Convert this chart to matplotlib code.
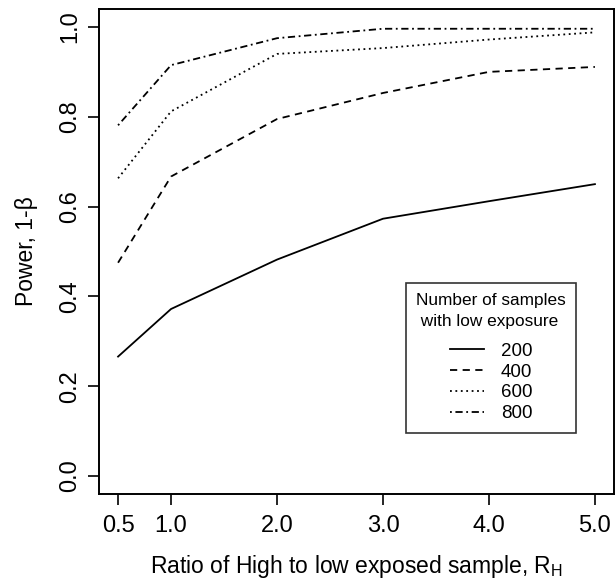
import matplotlib
matplotlib.use("Agg")
import matplotlib.pyplot as plt

plt.rcParams["font.family"] = ["Liberation Sans", "DejaVu Sans"]
plt.rcParams["mathtext.fontset"] = "custom"
plt.rcParams["mathtext.rm"] = "Liberation Sans"

# ratio of high to low exposed sample
ratio = [0.5, 1.0, 2.0, 3.0, 4.0, 5.0]

# power for each number of low-exposure samples
power_200 = [0.266, 0.372, 0.482, 0.573, 0.612, 0.650]
power_400 = [0.475, 0.667, 0.795, 0.853, 0.900, 0.911]
power_600 = [0.663, 0.812, 0.940, 0.953, 0.972, 0.988]
power_800 = [0.781, 0.915, 0.975, 0.996, 0.996, 0.996]

series_labels = ["200", "400", "600", "800"]
x_ticks = [0.5, 1.0, 2.0, 3.0, 4.0, 5.0]
y_ticks = [0.0, 0.2, 0.4, 0.6, 0.8, 1.0]

fig = plt.figure(figsize=(6.15, 5.8), dpi=100)
ax = fig.add_axes([99 / 615, 1 - 494 / 580, (614 - 99) / 615, (494 - 9) / 580])

styles = [
    dict(linestyle="-"),
    dict(linestyle=(0, (4, 3))),
    dict(linestyle=(0, (1, 2))),
    dict(linestyle=(0, (1, 2, 4, 2))),
]
for vals, lab, st in zip([power_200, power_400, power_600, power_800], series_labels, styles):
    ax.plot(ratio, vals, color="black", linewidth=1.3, label=lab, **st)

ax.set_xlim(0.32, 5.18)
ax.set_ylim(-0.04, 1.04)
ax.set_xticks(x_ticks)
ax.set_xticklabels([f"{v:.1f}" for v in x_ticks])
ax.set_yticks(y_ticks)
ax.set_yticklabels([f"{v:.1f}" for v in y_ticks], rotation=90, va="center")
ax.tick_params(direction="out", length=8, width=1.2, labelsize=17)
ax.tick_params(axis="x", pad=7)
ax.tick_params(axis="y", pad=5)
for s in ax.spines.values():
    s.set_linewidth(1.4)

ax.set_xlabel("Ratio of High to low exposed sample, R$_\\mathrm{H}$", fontsize=16.5, va="center")
ax.xaxis.set_label_coords(0.5, (494 - 566) / 485)
ax.set_ylabel("Power, 1-\u03b2", fontsize=16.5, va="center")
ax.yaxis.set_label_coords((27 - 99) / 515, 0.5)

leg = ax.legend(title="Number of samples\n with low exposure", loc="upper left",
                bbox_to_anchor=((406 - 99) / 515, 1 - (283 - 9) / 485),
                borderaxespad=0, fontsize=13.5, title_fontsize=12.4, frameon=True,
                fancybox=False, edgecolor="black", handlelength=1.8, handletextpad=0.9,
                labelspacing=0.2, borderpad=0.55, alignment="center")
leg.get_frame().set_linewidth(1.2)
leg.get_title().set_linespacing(1.45)
# a bit more room between the title and the entries
leg._legend_box.sep = 10

fig.savefig("out.png", dpi=100)
